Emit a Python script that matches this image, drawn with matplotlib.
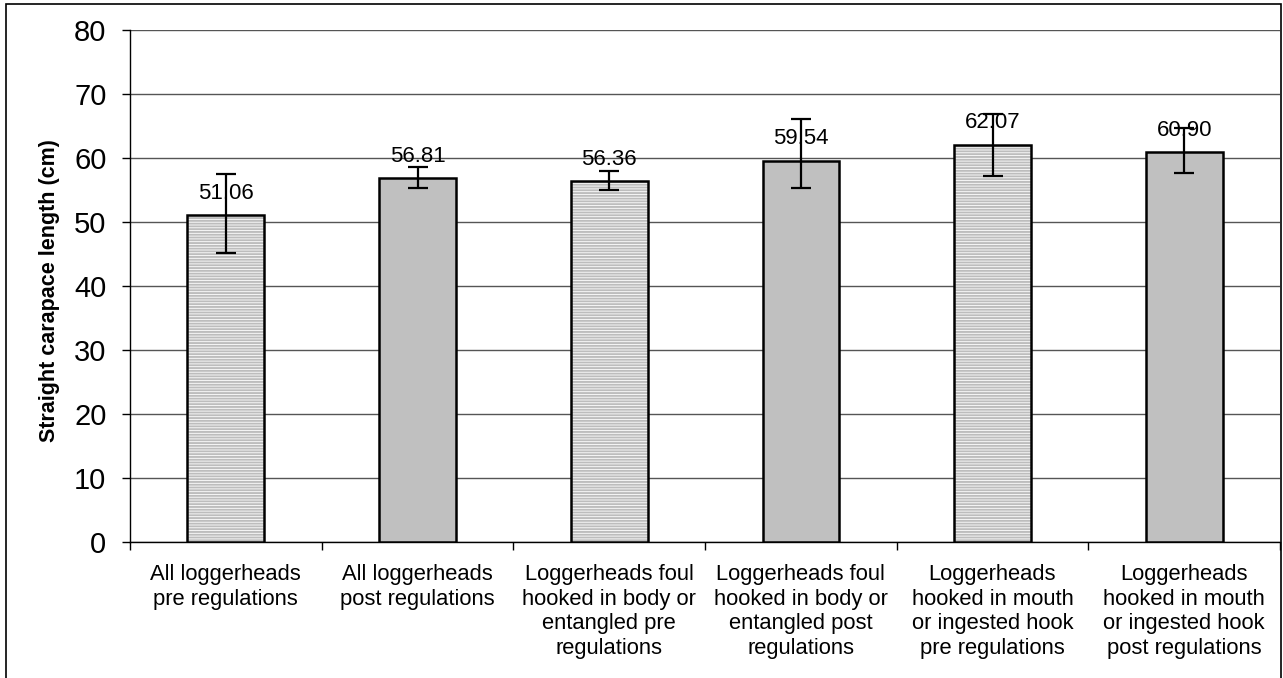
import numpy as np
import matplotlib
matplotlib.use("Agg")
import matplotlib.pyplot as plt
from matplotlib.patches import Rectangle

# data
categories = [
    "All loggerheads\npre regulations",
    "All loggerheads\npost regulations",
    "Loggerheads foul\nhooked in body or\nentangled pre\nregulations",
    "Loggerheads foul\nhooked in body or\nentangled post\nregulations",
    "Loggerheads\nhooked in mouth\nor ingested hook\npre regulations",
    "Loggerheads\nhooked in mouth\nor ingested hook\npost regulations",
]
means = [51.06, 56.81, 56.36, 59.54, 62.07, 60.90]
err_low = [5.9, 1.5, 1.3, 4.3, 4.9, 3.3]
err_high = [6.4, 1.8, 1.6, 6.6, 4.8, 3.8]
is_pre = [True, False, True, False, True, False]

plt.rcParams['font.family'] = ['Liberation Sans', 'DejaVu Sans']
plt.rcParams['hatch.linewidth'] = 1.4

fig = plt.figure(figsize=(12.83, 6.78), dpi=100)
ax = fig.add_axes([130 / 1283, 136 / 678, 1150 / 1283, 512 / 678])

x = np.arange(len(categories))
for i in range(len(categories)):
    if is_pre[i]:
        # grey horizontal stripes, then a black outline on top
        ax.bar(x[i], means[i], width=0.4, color='white', hatch='------',
               edgecolor='#bdbdbd', linewidth=0, zorder=3)
        ax.bar(x[i], means[i], width=0.4, fill=False,
               edgecolor='black', linewidth=1.8, zorder=3)
    else:
        ax.bar(x[i], means[i], width=0.4, color='#c0c0c0',
               edgecolor='black', linewidth=1.8, zorder=3)

for i in range(len(categories)):
    ax.annotate(f"{means[i]:.2f}", (x[i], means[i]), xytext=(0, 12),
                textcoords='offset points', ha='center', va='baseline',
                fontsize=16, zorder=4)

ax.errorbar(x, means, yerr=[err_low, err_high], fmt='none', ecolor='black',
            elinewidth=1.6, capsize=7, capthick=1.6, zorder=5)

ax.set_xlim(-0.5, len(categories) - 0.5)
ax.set_ylim(0, 80)
ax.set_yticks(np.arange(0, 81, 10))
ax.yaxis.grid(True, color='#555555', linewidth=1.0, zorder=0)
ax.set_axisbelow(True)

ax.set_xticks(x)
ax.set_xticklabels(categories, fontsize=15.8, linespacing=1.22)
ax.set_xticks(np.arange(-0.5, len(categories), 1), minor=True)
ax.tick_params(axis='x', which='major', length=0, pad=16)
ax.tick_params(axis='x', which='minor', length=6, width=1, direction='out')
ax.tick_params(axis='y', labelsize=21, length=6, width=1, pad=11)

for s in ['top', 'right']:
    ax.spines[s].set_visible(False)
ax.spines['left'].set_linewidth(1.0)
ax.spines['bottom'].set_linewidth(1.0)

ax.set_ylabel('Straight carapace length (cm)', fontsize=15.5, fontweight='bold')
ax.yaxis.set_label_coords(-0.061, 0.491)

# outer chart frame
fig.patches.append(Rectangle((6 / 1283, -0.1), 1274.5 / 1283, 1.1 - 4 / 678,
                             transform=fig.transFigure, fill=False,
                             edgecolor='black', linewidth=1.2))

fig.savefig('out.png', dpi=100)
